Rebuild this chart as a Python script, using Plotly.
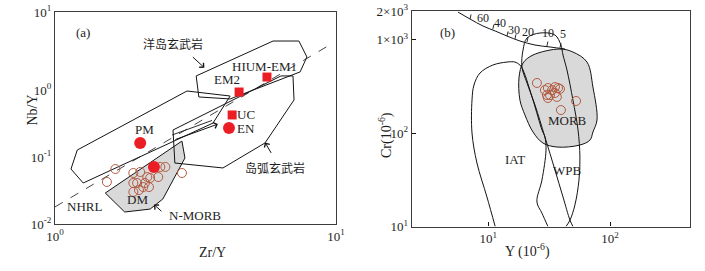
import numpy as np
import plotly.graph_objects as go

# ---------------- Panel (a): Nb/Y vs Zr/Y ----------------
oib_zr = [3.18, 3.25, 4.20, 7.45, 7.88, 7.38, 5.97, 3.18]
oib_nb = [1.62, 0.787, 0.735, 1.86, 3.11, 5.38, 5.38, 1.62]

opb_zr = [2.95, 1.20, 1.14, 1.26, 3.65, 4.20, 2.95]
opb_nb = [0.966, 0.127, 0.0662, 0.0409, 0.321, 0.813, 0.966]

arc_zr = [2.63, 2.67, 3.96, 5.59, 7.09, 7.03, 6.37, 2.63]
arc_nb = [0.253, 0.0813, 0.0686, 0.162, 0.710, 1.62, 1.62, 0.253]

nmorb_zr = [1.51, 1.77, 2.18, 2.42, 2.90, 2.83, 1.51]
nmorb_nb = [0.029, 0.0151, 0.0167, 0.0236, 0.0966, 0.173, 0.029]

nhrl_zr = [1.0, 9.76]
nhrl_nb = [0.018, 5.03]

trend_zr = [2.61, 3.62]
trend_nb = [0.213, 0.351]

sq_names = ["HIUM-EM1", "EM2", "UC"]
sq_zr = [5.68, 4.52, 4.27]
sq_nb = [1.56, 0.933, 0.424]

ci_names = ["EN", "PM", "DM"]
ci_zr = [4.16, 2.01, 2.25]
ci_nb = [0.271, 0.162, 0.071]

samp_a_zr = [1.53, 1.64, 1.90, 2.01, 2.13, 2.37, 2.47, 1.96, 1.90, 2.09, 2.18, 2.33, 1.99, 1.90, 2.06, 2.16, 2.83]
samp_a_nb = [0.0424, 0.0662, 0.0577, 0.0597, 0.0502, 0.0710, 0.0710, 0.0409, 0.0409, 0.0409, 0.0486, 0.0502, 0.0321, 0.0301, 0.0356, 0.0356, 0.0577]

# ---------------- Panel (b): Cr vs Y ----------------
fc_y = [5.64, 7.08, 9.05, 11.4, 14.25, 18.2, 24.2, 32.1, 42.7]
fc_cr = [1968, 1657, 1394, 1233, 1090, 964, 873, 832, 791]
fc_tick_y = [7.08, 10.9, 14.25, 16.57, 20.8, 30.3, 38.8]
fc_tick_cr = [1657, 1290, 1090, 1015, 940, 850, 815]
fc_labels = ["60", "40", "30", "20", "10", "5"]
fc_lab_y = [9.04, 12.47, 16.26, 21.2, 31.0, 41.1]
fc_lab_cr = [1700, 1500, 1265, 1202, 1175, 1146]

morb_y = [18.2, 17.9, 19.3, 23.3, 38.8, 49.6, 64.7, 72.4, 78.2, 72.4, 68.5, 56.6, 36.6, 28.1, 23.3, 20.0, 18.2]
morb_cr = [225, 397, 561, 683, 791, 735, 574, 310, 138, 102.5, 84.1, 74.4, 70.8, 78.2, 102.5, 156, 225]

iat_y = [11.4, 9.75, 8.07, 7.35, 7.35, 7.63, 8.55, 10.9, 14.25, 16.57, 18.2, 19.3, 23.3, 27.6, 29.2, 29.8, 27.6, 25.1, 27.6, 30.9]
iat_cr = [10, 20.7, 47.8, 100, 225, 326, 438, 533, 574, 574, 533, 472, 225, 108, 90.6, 65.8, 31.4, 18.3, 13.9, 10]

wpb_y = [43.5, 46.9, 51.5, 55.6, 56.6, 54.6, 49.6, 44.3, 41.1, 39.5, 35.3, 26.6, 20.8, 19.3, 18.9, 20.8, 24.2, 29.2, 35.3, 41.1, 46.9, 49.6]
wpb_cr = [10, 11.7, 17.0, 31.4, 55.4, 108, 225, 472, 683, 873, 1117, 1174, 1038, 772, 508, 343, 199, 90.6, 40.2, 20.7, 11.7, 10]

samp_b_y = [25.1, 29.2, 30.9, 33.4, 35.3, 37.4, 38.8, 30.3, 32.1, 35.3, 30.9, 36.6, 52.6, 39.5]
samp_b_cr = [343, 288, 303, 288, 310, 303, 296, 255, 255, 268, 237, 243, 220, 176]

SERIF = "Liberation Serif, Times New Roman, serif"
CJK = "Noto Sans CJK SC"
RED = "rgb(235,30,38)"
BROWN = "rgb(178,92,66)"
GRAY = "rgb(217,217,217)"
LINE = "rgb(20,20,20)"

fig = go.Figure()

def line(x, y, xa, ya, fill=None, dash=None, width=1.0, shape="linear"):
    fig.add_trace(go.Scatter(
        x=x, y=y, xaxis=xa, yaxis=ya, mode="lines",
        line=dict(color=LINE, width=width, dash=dash, shape=shape),
        fill=fill, fillcolor=GRAY if fill else None,
        hoverinfo="skip", showlegend=False))

# panel a
line(nmorb_zr, nmorb_nb, "x", "y", fill="toself")
line(opb_zr, opb_nb, "x", "y")
line(oib_zr, oib_nb, "x", "y")
line(arc_zr, arc_nb, "x", "y")
line(nhrl_zr, nhrl_nb, "x", "y", dash="dash", width=0.8)
line(trend_zr, trend_nb, "x", "y", width=0.9)

fig.add_trace(go.Scatter(x=samp_a_zr, y=samp_a_nb, xaxis="x", yaxis="y", mode="markers",
                         marker=dict(symbol="circle-open", size=9, color=BROWN, line=dict(width=1)),
                         showlegend=False, hoverinfo="skip"))
fig.add_trace(go.Scatter(x=sq_zr, y=sq_nb, xaxis="x", yaxis="y", mode="markers",
                         marker=dict(symbol="square", size=9, color=RED),
                         showlegend=False, hoverinfo="skip"))
fig.add_trace(go.Scatter(x=ci_zr, y=ci_nb, xaxis="x", yaxis="y", mode="markers",
                         marker=dict(symbol="circle", size=12, color=RED),
                         showlegend=False, hoverinfo="skip"))

# panel b
line(morb_y, morb_cr, "x2", "y2", fill="toself", shape="spline")
line(iat_y, iat_cr, "x2", "y2", shape="spline")
line(wpb_y, wpb_cr, "x2", "y2", shape="spline")
line(fc_y, fc_cr, "x2", "y2", shape="spline")
for ty, tc in zip(fc_tick_y, fc_tick_cr):
    line([ty, ty * 1.02], [tc, tc * 1.12], "x2", "y2", width=0.9)

fig.add_trace(go.Scatter(x=samp_b_y, y=samp_b_cr, xaxis="x2", yaxis="y2", mode="markers",
                         marker=dict(symbol="circle-open", size=9, color=BROWN, line=dict(width=1)),
                         showlegend=False, hoverinfo="skip"))

ann = []
def txt(x, y, s, xr, yr, size=13, font=SERIF, xanchor="center", color="rgb(30,30,30)"):
    ann.append(dict(x=np.log10(x), y=np.log10(y), xref=xr, yref=yr, text=s, showarrow=False,
                    xanchor=xanchor, yanchor="middle", font=dict(family=font, size=size, color=color)))

txt(1.258, 7.10, "(a)", "x", "y")
txt(2.63, 5.02, "洋岛玄武岩", "x", "y", size=12, font=CJK)
txt(5.55, 2.28, "HIUM-EM1", "x", "y")
txt(4.09, 1.41, "EM2", "x", "y")
txt(4.36, 0.424, "UC", "x", "y", xanchor="left")
txt(4.36, 0.262, "EN", "x", "y", xanchor="left")
txt(2.09, 0.253, "PM", "x", "y")
txt(1.96, 0.0236, "DM", "x", "y")
txt(1.27, 0.0180, "NHRL", "x", "y")
txt(3.15, 0.0136, "N-MORB", "x", "y")
txt(6.07, 0.0686, "岛弧玄武岩", "x", "y", size=12, font=CJK)

# arrows panel a
def arrow(x, y, ax, ay, xr, yr):
    ann.append(dict(x=np.log10(x), y=np.log10(y), xref=xr, yref=yr, ax=ax, ay=ay,
                    showarrow=True, arrowhead=4, arrowsize=1.2, arrowwidth=1, arrowcolor=LINE, text=""))

arrow(3.40, 2.15, -13, -12, "x", "y")   # OIB
arrow(2.25, 0.0195, 9, 8, "x", "y")     # N-MORB
arrow(5.59, 0.165, 7, 12, "x", "y")     # arc
arrow(3.80, 0.31, -44, 16, "x", "y")    # trend arrow

txt(10 ** 0.669, 10 ** 3.070, "(b)", "x2", "y2")
txt(10 ** 1.647, 10 ** 2.139, "MORB", "x2", "y2")
txt(10 ** 1.219, 10 ** 1.722, "IAT", "x2", "y2")
txt(10 ** 1.647, 10 ** 1.594, "WPB", "x2", "y2")
for s, xx, yy in zip(fc_labels, fc_lab_y, fc_lab_cr):
    txt(xx, yy, s, "x2", "y2", size=12)

# axis titles
ann.append(dict(x=197 / 705, y=9 / 271, xref="paper", yref="paper", text="Zr/Y", showarrow=False,
                font=dict(family=SERIF, size=14, color="rgb(30,30,30)")))
ann.append(dict(x=22 / 705, y=161 / 271, xref="paper", yref="paper", text="Nb/Y", showarrow=False,
                textangle=-90, font=dict(family=SERIF, size=14, color="rgb(30,30,30)")))
ann.append(dict(x=552 / 705, y=9 / 271, xref="paper", yref="paper", text="Y (10<sup>-6</sup>)", showarrow=False,
                font=dict(family=SERIF, size=14, color="rgb(30,30,30)")))
ann.append(dict(x=385 / 705, y=136 / 271, xref="paper", yref="paper", text="Cr(10<sup>-6</sup>)", showarrow=False,
                textangle=-90, font=dict(family=SERIF, size=14, color="rgb(30,30,30)")))

axis_common = dict(type="log", showgrid=False, zeroline=False, showline=True, mirror=True,
                   linecolor="rgb(60,60,60)", linewidth=1.3, automargin=False,
                   tickfont=dict(family=SERIF, size=13, color="rgb(30,30,30)"))

fig.update_layout(
    width=705, height=271, margin=dict(l=0, r=0, t=0, b=0, autoexpand=False),
    paper_bgcolor="white", plot_bgcolor="white", showlegend=False,
    xaxis=dict(axis_common, domain=[55 / 705, 336 / 705], range=[0, 1], anchor="y",
               tickvals=[1, 10], ticktext=["10<sup>0</sup>", "10<sup>1</sup>"], ticks=""),
    yaxis=dict(axis_common, domain=[47 / 271, 259 / 271], range=[-2, 1.164], anchor="x",
               tickvals=[0.01, 0.1, 1, 10 ** 1.164],
               ticktext=["10<sup>-2</sup>", "10<sup>-1</sup>", "10<sup>0</sup>", "10<sup>1</sup>"], ticks=""),
    xaxis2=dict(axis_common, domain=[411.7 / 705, 690 / 705], range=[0.371, 2.657], anchor="y2",
                tickvals=[10, 100], ticktext=["10<sup>1</sup>", "10<sup>2</sup>"],
                ticks="inside", ticklen=4, tickcolor=LINE),
    yaxis2=dict(axis_common, domain=[44.5 / 271, 260 / 271], range=[1, 3.305], anchor="x2",
                tickvals=[10, 100, 1000, 2000],
                ticktext=["10<sup>1</sup>", "10<sup>2</sup>", "1×10<sup>3</sup>", "2×10<sup>3</sup>"],
                ticks="inside", ticklen=4, tickcolor=LINE),
    annotations=ann,
)

fig.write_html("out.html", config={"displayModeBar": False})
with open("out.html", encoding="utf-8") as f:
    html = f.read()
html = html.replace("<body>", '<body style="margin:0;padding:0;overflow:hidden">', 1)
with open("out.html", "w", encoding="utf-8") as f:
    f.write(html)
